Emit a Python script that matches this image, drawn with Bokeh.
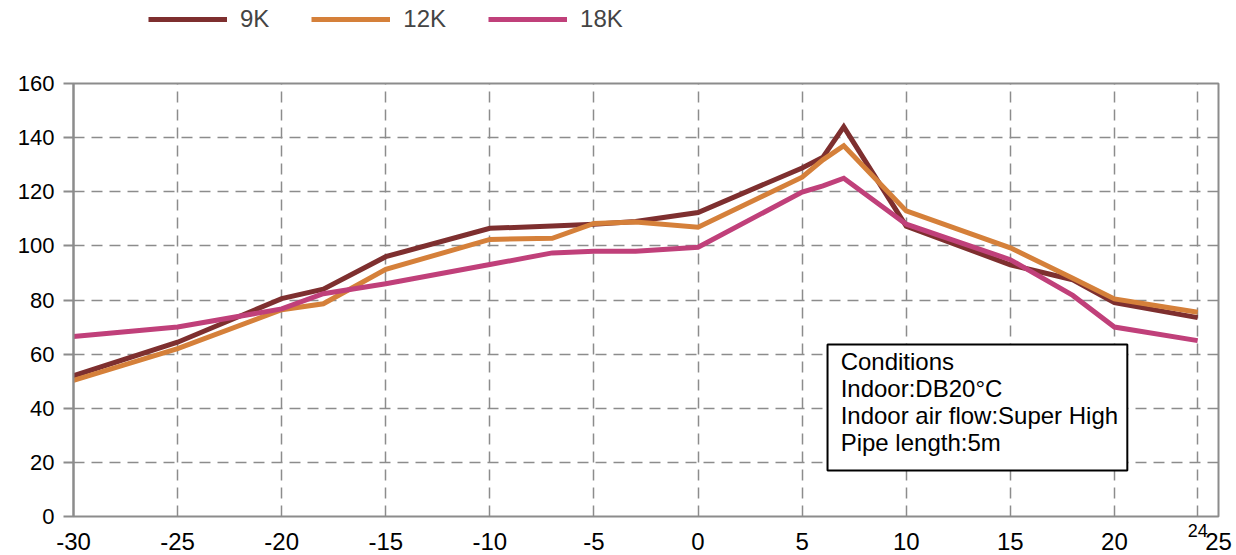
from bokeh.plotting import figure
from bokeh.layouts import column
from bokeh.models import (FixedTicker, Legend, LegendItem, Label, BoxAnnotation,
                          ColumnDataSource, LinearAxis)
from bokeh.embed import file_html
from bokeh.resources import INLINE

# ---- data ----
temps = [-30, -25, -20, -18, -15, -10, -7, -5, -3, 0, 5, 6, 7, 10, 15, 18, 20, 24]
cap_9k = [52, 64.4, 80.5, 84, 96, 106.5, 107.3, 108, 109, 112.3, 128.8, 132.8, 144, 107.3, 93, 87.5, 79, 73.5]
cap_12k = [50.3, 62, 76.4, 78.6, 91.3, 102.4, 102.8, 108.3, 108.8, 106.9, 125.4, 131.8, 137, 112.9, 99.3, 88, 80.4, 75.5]
cap_18k = [66.5, 70, 76.7, 82.3, 86, 93.1, 97.4, 98, 98, 99.5, 119.9, 122.2, 125, 108, 94.9, 81.7, 70, 65]
series_names = ["9K", "12K", "18K"]
series_colors = ["#7E2F2F", "#D5803A", "#C0407A"]
x_ticks = [-30, -25, -20, -15, -10, -5, 0, 5, 10, 15, 20, 25]
x_extra_tick = [24]
x_grid = [-25, -20, -15, -10, -5, 0, 5, 10, 15, 20, 24]
y_ticks = [0, 20, 40, 60, 80, 100, 120, 140, 160]
conditions = ["Conditions", "Indoor:DB20\u00b0C", "Indoor air flow:Super High", "Pipe length:5m"]

FONT = "Liberation Sans"
GREY = "#8C8C8C"
W = 1234
LEG_H = 43

src = ColumnDataSource(dict(x=temps, a=cap_9k, b=cap_12k, c=cap_18k))
cols = ["a", "b", "c"]

# ---- main chart ----
p = figure(width=W, height=553 - LEG_H, output_backend="svg", toolbar_location=None,
           x_range=(-30, 25), y_range=(0, 160),
           min_border_left=73, min_border_right=16, min_border_top=83 - LEG_H, min_border_bottom=37)
p.background_fill_color = "white"
p.border_fill_color = "white"
p.outline_line_color = GREY
p.outline_line_width = 2

for col, color in zip(cols, series_colors):
    p.line("x", col, source=src, line_color=color, line_width=5, line_join="miter")

# first (closest) bottom axis carries the small "24" label
ax24 = p.xaxis[0]
ax24.ticker = FixedTicker(ticks=x_extra_tick)
ax24.major_label_overrides = {t: str(t) for t in x_extra_tick}
ax24.axis_line_color = None
ax24.major_tick_line_color = None
ax24.minor_tick_line_color = None
ax24.major_tick_in = 0
ax24.major_tick_out = 0
ax24.major_label_standoff = 7
ax24.major_label_text_font = FONT
ax24.major_label_text_font_size = "18px"
ax24.major_label_text_color = "black"

xmain = LinearAxis(ticker=FixedTicker(ticks=x_ticks))
xmain.major_label_overrides = {t: str(t) for t in x_ticks}
xmain.axis_line_color = None
xmain.major_tick_line_color = None
xmain.minor_tick_line_color = None
xmain.major_tick_in = 0
xmain.major_tick_out = 0
xmain.major_label_standoff = -7
xmain.major_label_text_font = FONT
xmain.major_label_text_font_size = "24px"
xmain.major_label_text_color = "black"
p.add_layout(xmain, "below")

ya = p.yaxis[0]
ya.ticker = FixedTicker(ticks=y_ticks)
ya.axis_line_color = GREY
ya.axis_line_width = 2
ya.major_tick_line_color = GREY
ya.major_tick_line_width = 2
ya.minor_tick_line_color = None
ya.major_tick_in = 0
ya.major_tick_out = 10
ya.major_label_standoff = 9
ya.major_label_text_font = FONT
ya.major_label_text_font_size = "22px"
ya.major_label_text_color = "black"

p.xgrid.ticker = FixedTicker(ticks=x_grid)
p.ygrid.ticker = FixedTicker(ticks=y_ticks[1:-1])
for g in (p.xgrid, p.ygrid):
    g.grid_line_color = GREY
    g.grid_line_width = 1.5
    g.grid_line_dash = "11 7"

# conditions box
box = BoxAnnotation(left=6.22, right=20.62, top=63.6, bottom=17.0,
                    fill_color="white", fill_alpha=1.0,
                    line_color="black", line_alpha=1.0, line_width=2)
p.add_layout(box)
for i, t in enumerate(conditions):
    p.add_layout(Label(x=6.85, y=57.4 - i * 10.0, text=t, text_font=FONT, text_font_size="24px",
                       text_align="left", text_baseline="alphabetic", text_color="black"))

# ---- legend strip (its own lines lie outside its ranges, only the legend shows) ----
lf = figure(width=W, height=LEG_H, output_backend="svg", toolbar_location=None,
            x_range=(1000, 1001), y_range=(1000, 1001), x_axis_type=None, y_axis_type=None,
            min_border=0)
lf.outline_line_color = None
lf.grid.visible = False
leg_renderers = [lf.line("x", col, source=src, line_color=color, line_width=5)
                 for col, color in zip(cols, series_colors)]
items = [LegendItem(label=n, renderers=[r]) for n, r in zip(series_names, leg_renderers)]
legend = Legend(items=items, orientation="horizontal", location=(75, 10),
                glyph_width=79, glyph_height=28, label_height=28, label_standoff=13, spacing=42,
                padding=0, margin=0, border_line_color=None, background_fill_alpha=0,
                label_text_font=FONT, label_text_font_size="24px", label_width=0)
lf.add_layout(legend)

layout = column(lf, p, spacing=0)
open("out.html", "w").write(file_html(layout, INLINE))
